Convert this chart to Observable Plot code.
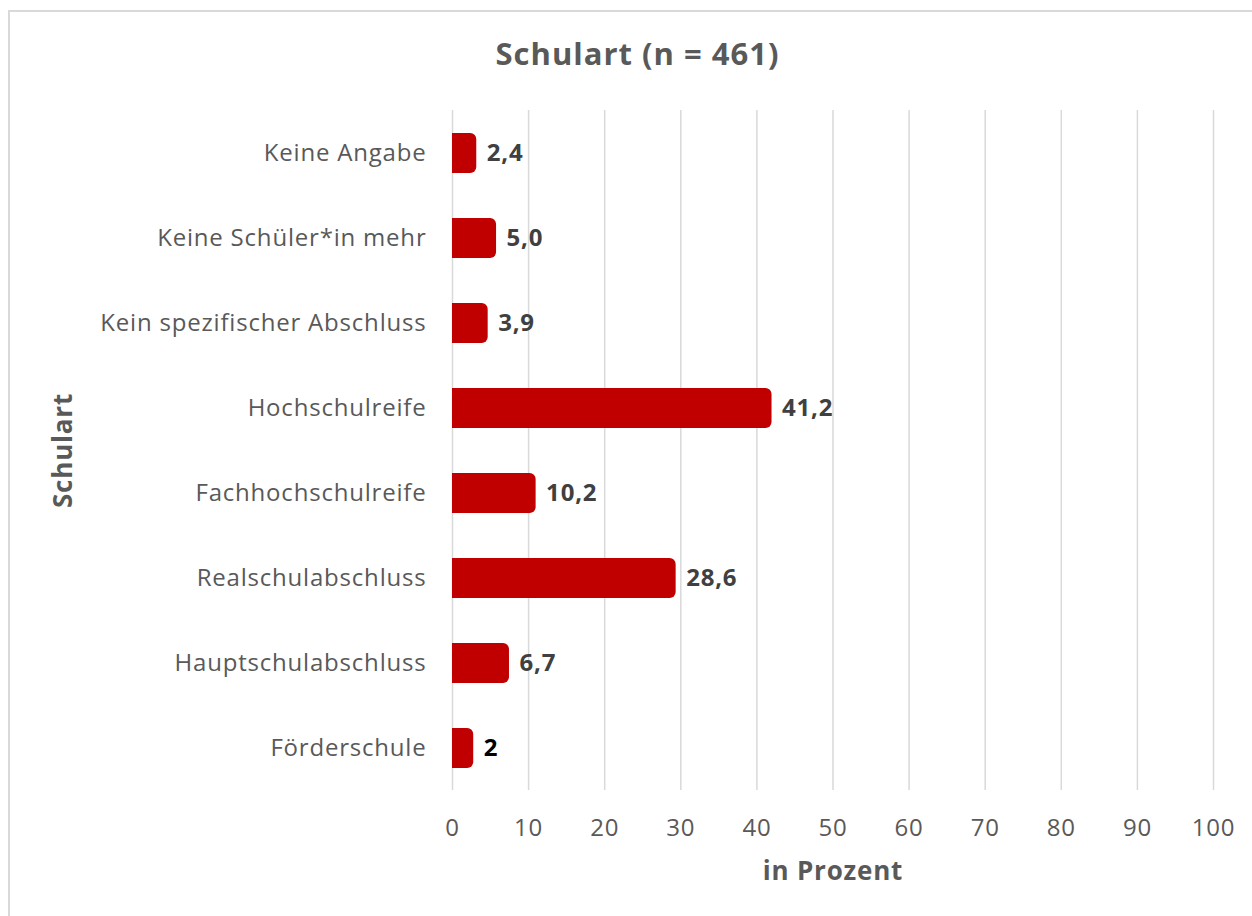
<!DOCTYPE html>
<html>
<head>
<meta charset="utf-8">
<script src="https://cdn.jsdelivr.net/npm/d3@7"></script>
<script src="https://cdn.jsdelivr.net/npm/@observablehq/plot@0.6"></script>
<style>
  html, body { margin: 0; padding: 0; background: #fff; }
  #wrap { position: relative; width: 1252px; height: 916px; overflow: hidden; font-family: "Open Sans", sans-serif; }
  #frame { position: absolute; left: 8px; top: 10px; width: 1260px; height: 920px; border-top: 2px solid #d9d9d9; border-left: 2px solid #d9d9d9; box-sizing: border-box; }
  #title { position: absolute; left: 0; top: 33px; width: 1275px; text-align: center; font-size: 31px; font-weight: bold; color: #595959; line-height: 40px; letter-spacing: 1px; }
  #chart { position: absolute; left: 0; top: 0; }
</style>
</head>
<body>
<div id="wrap">
  <div id="frame"></div>
  <div id="chart"></div>
  <div id="title">Schulart (n = 461)</div>
</div>
<script>
const categories = [
  "Keine Angabe",
  "Keine Schüler*in mehr",
  "Kein spezifischer Abschluss",
  "Hochschulreife",
  "Fachhochschulreife",
  "Realschulabschluss",
  "Hauptschulabschluss",
  "Förderschule"
];
const values = [2.4, 5.0, 3.9, 41.2, 10.2, 28.6, 6.7, 2];
const valueLabels = ["2,4", "5,0", "3,9", "41,2", "10,2", "28,6", "6,7", "2"];
const xTicks = [0, 10, 20, 30, 40, 50, 60, 70, 80, 90, 100];
const xTitle = "in Prozent";
const yTitle = "Schulart";

const data = categories.map((c, i) => ({cat: c, value: values[i], label: valueLabels[i], i}));
const lastIndex = categories.length - 1;

const font = "'Open Sans', sans-serif";

const plot = Plot.plot({
  width: 1252,
  height: 916,
  marginLeft: 452,
  marginRight: 39,
  marginTop: 110,
  marginBottom: 126,
  style: {fontFamily: font, background: "transparent", overflow: "visible", letterSpacing: "0.8px"},
  x: {domain: [0, 100], ticks: xTicks, label: null},
  y: {domain: categories, paddingInner: 0.53, paddingOuter: 0.265, label: null},
  marks: [
    Plot.ruleX(xTicks, {stroke: "#d9d9d9", strokeWidth: 1.5}),
    Plot.axisX({ticks: xTicks, tickSize: 0, tickPadding: 28, fontSize: 24, fill: "#595959", label: null, tickFormat: d => String(d)}),
    Plot.axisY({tickSize: 0, tickPadding: 26, fontSize: 24, fill: "#595959", label: null}),
    Plot.barX(data, {x: "value", y: "cat", fill: "#c00000", rx: 6, insetLeft: -10, insetRight: -6, clip: true}),
    Plot.text(data.filter(d => d.i !== lastIndex), {x: "value", y: "cat", text: "label", dx: 16, textAnchor: "start", fontSize: 24, fontWeight: "bold", fill: "#404040"}),
    Plot.text(data.filter(d => d.i === lastIndex), {x: "value", y: "cat", text: "label", dx: 16, textAnchor: "start", fontSize: 24, fontWeight: "bold", fill: "#000000"}),
    Plot.text([xTitle], {frameAnchor: "bottom", dy: 81, textAnchor: "middle", lineAnchor: "middle", fontSize: 26, fontWeight: "bold", fill: "#595959"}),
    Plot.text([yTitle], {frameAnchor: "left", dx: -389, rotate: -90, textAnchor: "middle", lineAnchor: "middle", fontSize: 26, fontWeight: "bold", fill: "#595959"})
  ]
});
document.getElementById("chart").appendChild(plot);
</script>
</body>
</html>
